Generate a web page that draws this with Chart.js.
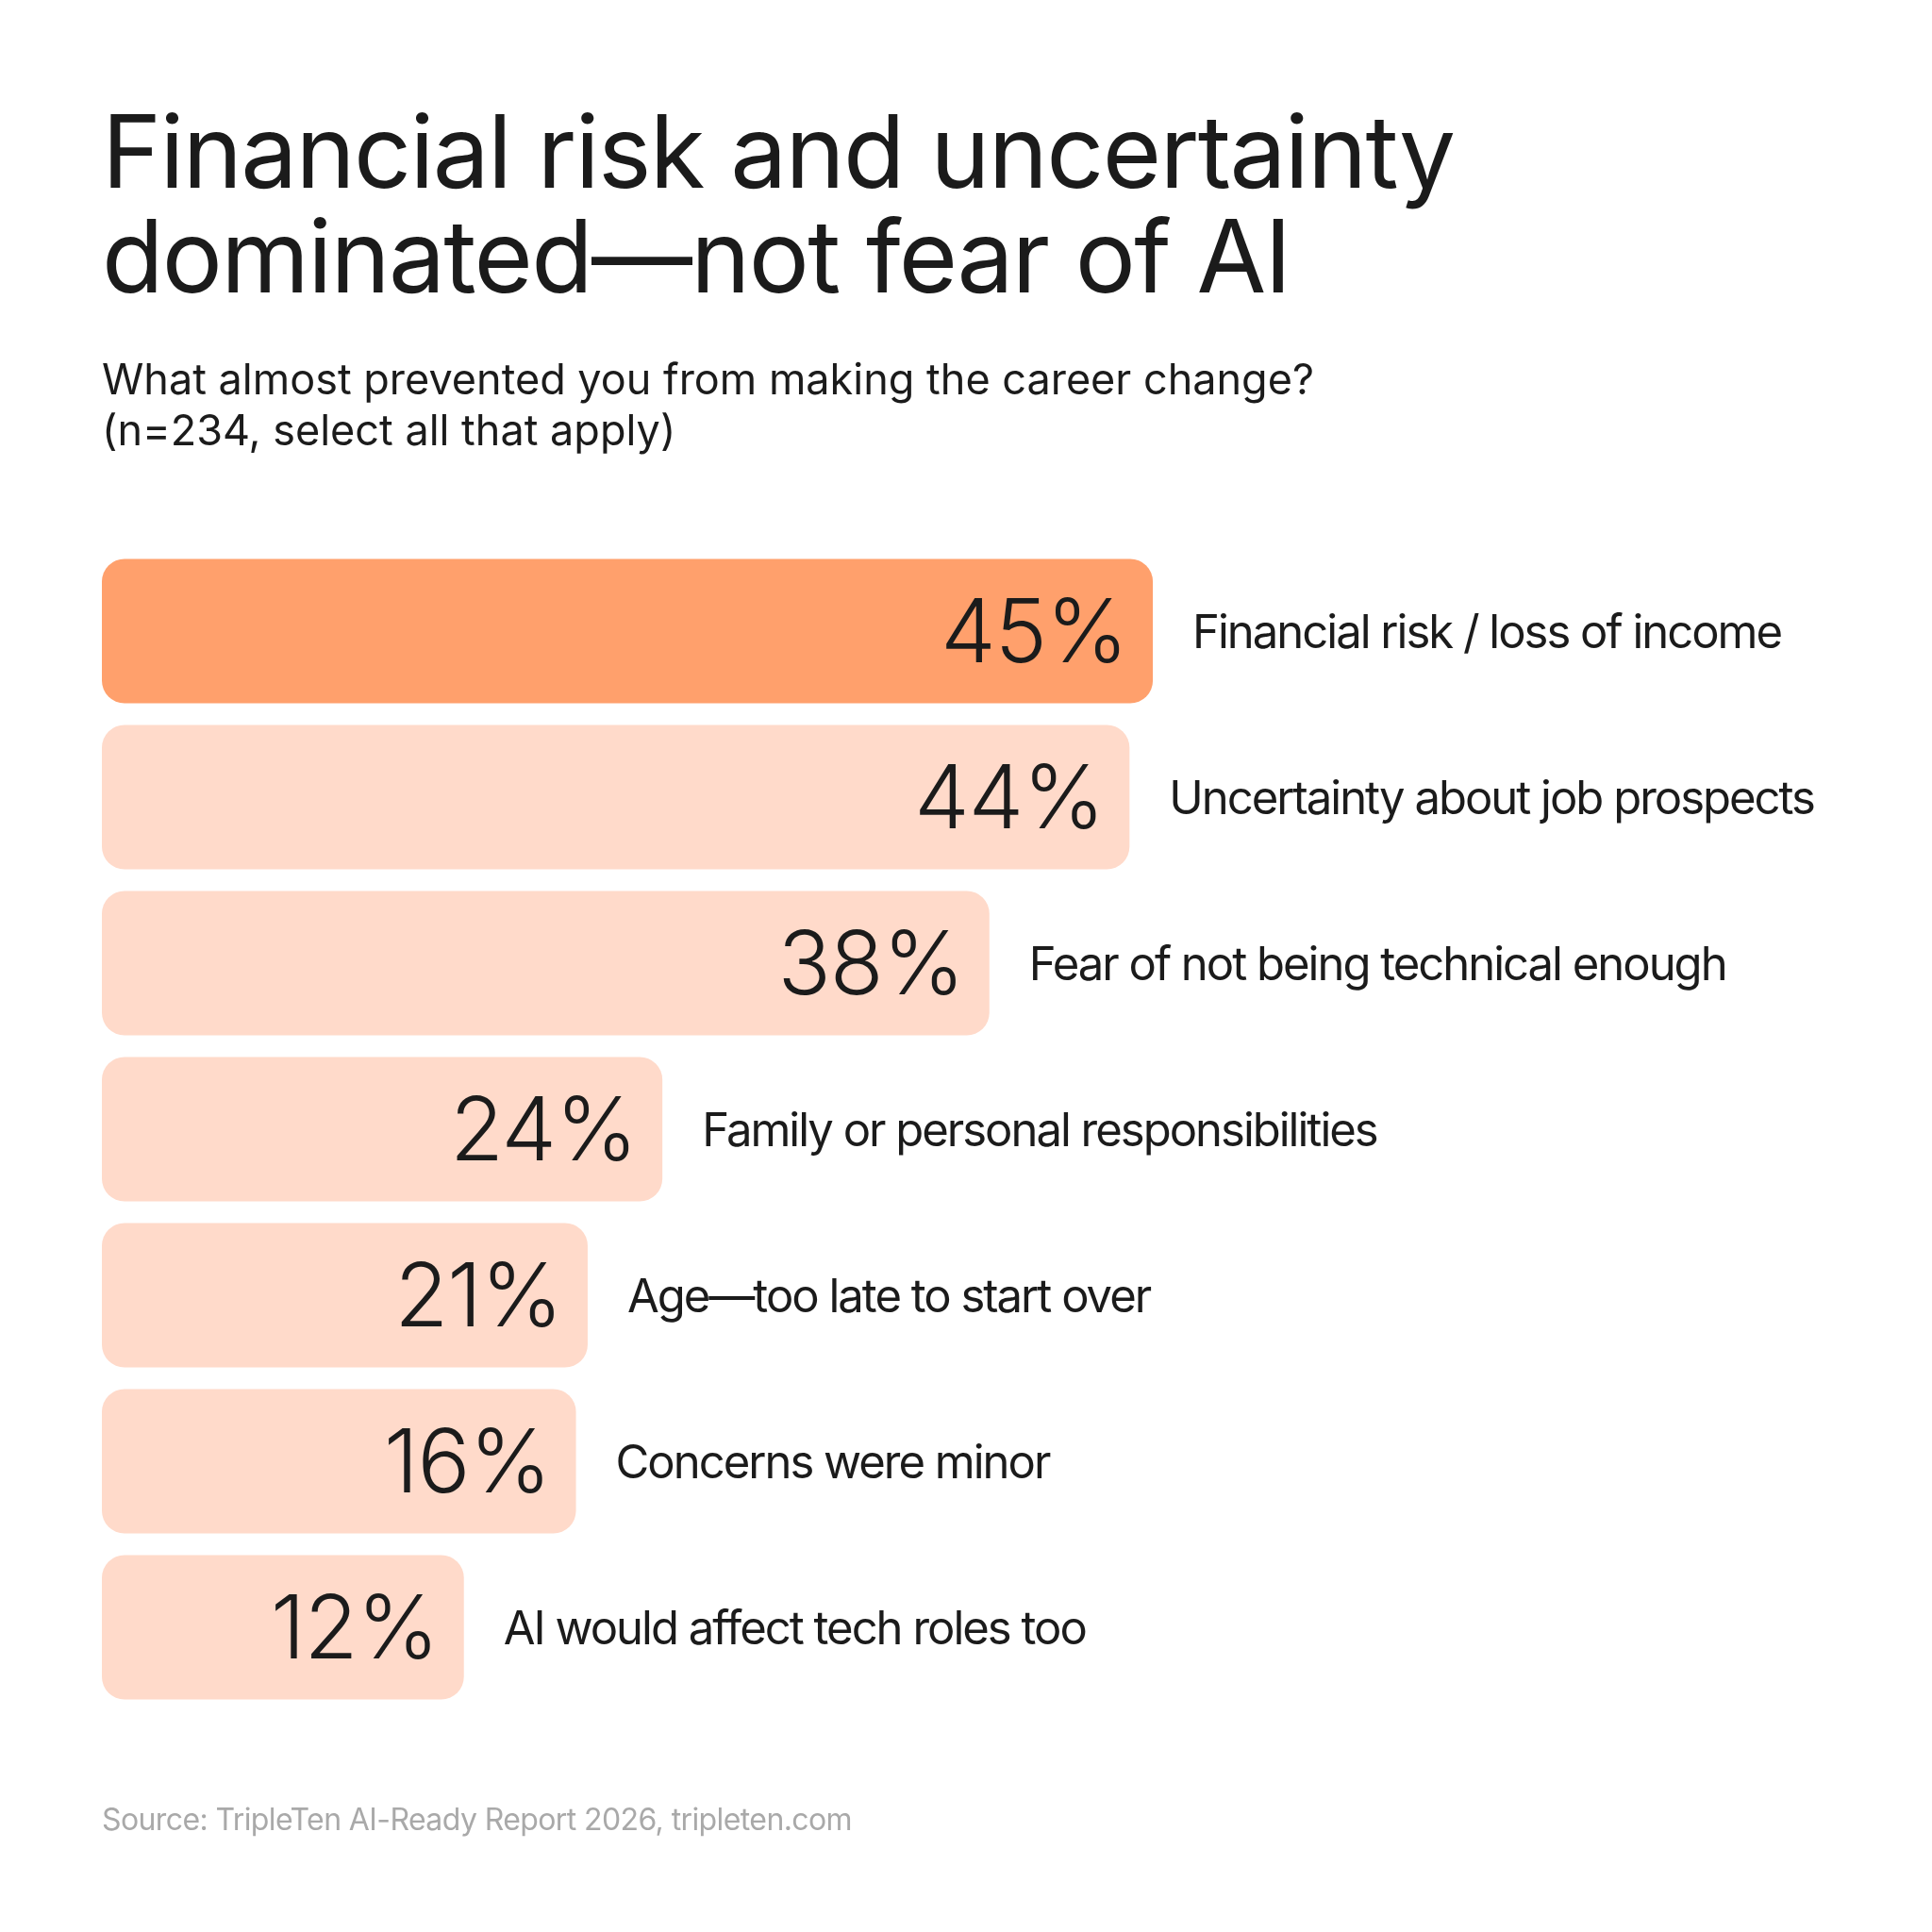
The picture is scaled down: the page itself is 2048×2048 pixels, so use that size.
<!DOCTYPE html>
<html>
<head>
<meta charset="utf-8">
<script src="https://cdn.jsdelivr.net/npm/chart.js@4.4.1/dist/chart.umd.min.js"></script>
<style>
  html, body { margin: 0; padding: 0; background: #ffffff; }
  #wrap { position: relative; width: 2048px; height: 2048px; font-family: Inter, "Noto Sans", sans-serif; color: #1b1b1b; }
  #chart { position: absolute; left: 0; top: 0; }
  .title { position: absolute; left: 108px; top: 105px; font-size: 107px; line-height: 111px; letter-spacing: -0.016em; font-weight: 400; white-space: nowrap; }
  .subtitle { position: absolute; left: 108px; top: 375px; font-size: 45px; line-height: 54px; font-weight: 400; white-space: nowrap; }
  .source { position: absolute; left: 108px; top: 1909px; font-size: 32px; line-height: 40px; letter-spacing: -0.6px; color: #a9a9a9; white-space: nowrap; }
</style>
</head>
<body>
<div id="wrap">
  <canvas id="chart" width="2048" height="2048"></canvas>
  <div class="title">Financial risk and uncertainty<br>dominated—not fear of AI</div>
  <div class="subtitle">What almost prevented you from making the career change?<br>(n=234, select all that apply)</div>
  <div class="source">Source: TripleTen AI-Ready Report 2026, tripleten.com</div>
</div>
<script>
// ===== Data =====
const categories = [
  "Financial risk / loss of income",
  "Uncertainty about job prospects",
  "Fear of not being technical enough",
  "Family or personal responsibilities",
  "Age—too late to start over",
  "Concerns were minor",
  "AI would affect tech roles too"
];
const shares = [45, 44, 38, 24, 21, 16, 12];
// bar lengths as drawn in the original (the two shortest bars are padded out)
const barEnds = [45, 44, 38, 24, 20.8, 20.3, 15.5];
const barColors = ["#FFA06C", "#FFDACA", "#FFDACA", "#FFDACA", "#FFDACA", "#FFDACA", "#FFDACA"];

// ===== Labels plugin =====
const labelPlugin = {
  id: "barLabels",
  afterDatasetsDraw(chart) {
    const ctx = chart.ctx;
    const bars = chart.getDatasetMeta(0).data;
    ctx.save();
    ctx.fillStyle = "#1b1b1b";
    bars.forEach((bar, i) => {
      // value inside the bar, right aligned
      ctx.font = "300 93px Inter";
      ctx.letterSpacing = "-1px";
      ctx.textAlign = "right";
      ctx.textBaseline = "alphabetic";
      ctx.fillText(shares[i] + "%", bar.x - 27, bar.y + 33);

      // category name after the bar
      ctx.font = "400 49px Inter";
      ctx.letterSpacing = "-2px";
      ctx.textAlign = "left";
      ctx.fillText(categories[i], bar.x + 42, bar.y + 18);
    });
    ctx.restore();
  }
};

// ===== Chart =====
new Chart(document.getElementById("chart"), {
  type: "bar",
  data: {
    labels: categories,
    datasets: [{
      data: barEnds,
      backgroundColor: barColors,
      borderRadius: 24,
      borderSkipped: false,
      barPercentage: 0.87,
      categoryPercentage: 1
    }]
  },
  options: {
    indexAxis: "y",
    responsive: false,
    animation: false,
    layout: { padding: { left: 108, right: 207, top: 581, bottom: 235 } },
    scales: {
      x: { display: false, min: 0, max: 70 },
      y: { display: false }
    },
    plugins: {
      legend: { display: false },
      tooltip: { enabled: false }
    }
  },
  plugins: [labelPlugin]
});
</script>
</body>
</html>
